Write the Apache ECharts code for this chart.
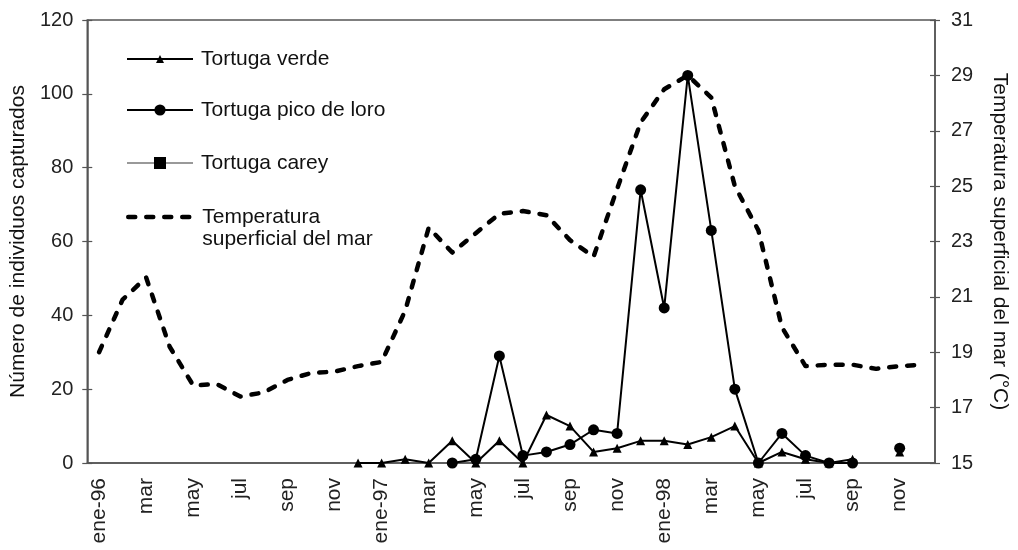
<!DOCTYPE html>
<html>
<head>
<meta charset="utf-8">
<script src="https://cdn.jsdelivr.net/npm/echarts@6/dist/echarts.min.js"></script>
<style>
  html, body { margin: 0; padding: 0; background: #fff; }
  #chart { width: 1018px; height: 550px; }
</style>
</head>
<body>
<div id="chart"></div>
<script>
// meses ene-96 .. dic-98
var meses = ['ene-96','feb','mar','abr','may','jun','jul','ago','sep','oct','nov','dic',
             'ene-97','feb','mar','abr','may','jun','jul','ago','sep','oct','nov','dic',
             'ene-98','feb','mar','abr','may','jun','jul','ago','sep','oct','nov','dic']

// temperatura superficial del mar (°C)
var temperatura = [19.0, 20.9, 21.7, 19.2, 17.8, 17.85, 17.4, 17.55, 18.0, 18.25, 18.3, 18.5,
                   18.65, 20.5, 23.5, 22.6, 23.3, 24.0, 24.1, 23.95, 23.05, 22.45, 24.9, 27.3,
                   28.5, 29.0, 28.2, 25.0, 23.4, 19.9, 18.5, 18.55, 18.55, 18.4, 18.5, 18.55]

// individuos capturados
var verde = [null, null, null, null, null, null, null, null, null, null, null, 0,
             0, 1, 0, 6, 0, 6, 0, 13, 10, 3, 4, 6,
             6, 5, 7, 10, 0, 3, 1, 0, 1, null, 3, null]
var picoLoro = [null, null, null, null, null, null, null, null, null, null, null, null,
                null, null, null, 0, 1, 29, 2, 3, 5, 9, 8, 74,
                42, 105, 63, 20, 0, 8, 2, 0, 0, null, 4, null]
var carey = [null, null, null, null, null, null, null, null, null, null, null, null,
             null, null, null, null, null, null, null, null, null, null, null, null,
             null, null, null, null, null, null, null, null, null, null, null, null]

var fuente = 'Liberation Sans, Arial, sans-serif'
var gris = '#555'
var trazo = { color: '#000', width: 4.5, type: [7, 11], cap: 'round', join: 'round' }

var myChart = echarts.init(document.getElementById('chart'))

function leyenda(nombre, top, alto, lh){
	var l = {
		data: [nombre], left: 126, top: top, padding: 0,
		itemWidth: 66, itemHeight: alto, selectedMode: false,
		textStyle: { fontSize: 21, color: '#111', fontFamily: fuente, lineHeight: lh, padding: [0,0,0,3] },
		formatter: function(n){
			// linea vacia arriba para que el icono quede a la altura de "Temperatura"
			return n == 'Temperatura superficial del mar' ? '\nTemperatura\nsuperficial del mar' : n
		}
	}
	if (nombre == 'Temperatura superficial del mar') {
		l.itemStyle = { opacity: 0 }
		l.lineStyle = trazo
	}
	return l
}

var option = {
	animation: false,
	backgroundColor: '#fff',
	textStyle: { fontFamily: fuente },
	grid: { left: 85, right: 80, top: 20, bottom: 87, show: true, borderColor: gris, borderWidth: 1.5 },
	legend: [
		leyenda('Tortuga verde', 47, 10, 24),
		leyenda('Tortuga pico de loro', 98, 14, 24),
		leyenda('Tortuga carey', 151, 15, 24),
		leyenda('Temperatura superficial del mar', 184, 12, 22)
	],
	xAxis: [{
		type: 'category', data: meses, boundaryGap: true,
		axisLine: { lineStyle: { color: gris, width: 1.5 } },
		axisTick: { interval: 0, length: 7, lineStyle: { color: gris, width: 1.2 } },
		axisLabel: { interval: 1, rotate: 90, fontSize: 21, color: '#222', margin: 15, fontFamily: fuente },
		splitLine: { show: false }
	}, {
		type: 'category', data: meses, boundaryGap: true, position: 'bottom',
		axisLine: { show: false },
		axisTick: { interval: 0, inside: true, length: 7, lineStyle: { color: gris, width: 1.2 } },
		axisLabel: { show: false },
		splitLine: { show: false }
	}],
	yAxis: [{
		type: 'value', min: 0, max: 120, interval: 20, position: 'left',
		name: 'Número de individuos capturados', nameLocation: 'middle', nameGap: 42,
		nameTextStyle: { fontSize: 21, color: '#111', fontFamily: fuente },
		axisLine: { show: true, lineStyle: { color: gris, width: 1.5 } },
		axisTick: { show: true, length: 5, lineStyle: { color: gris, width: 1.2 } },
		axisLabel: { fontSize: 20, color: '#222', margin: 14, fontFamily: fuente },
		splitLine: { show: false }
	}, {
		type: 'value', min: 15, max: 31, interval: 2, position: 'right',
		name: 'Temperatura superficial del mar (°C)', nameLocation: 'middle', nameGap: 54, nameRotate: -90,
		nameTextStyle: { fontSize: 21, color: '#111', fontFamily: fuente },
		axisLine: { show: true, lineStyle: { color: gris, width: 1.5 } },
		axisTick: { show: true, length: 5, lineStyle: { color: gris, width: 1.2 } },
		axisLabel: { fontSize: 20, color: '#222', margin: 16, fontFamily: fuente },
		splitLine: { show: false }
	}, {
		type: 'value', min: 0, max: 120, interval: 20, position: 'left',
		axisLine: { show: false },
		axisTick: { show: true, inside: true, length: 5, lineStyle: { color: gris, width: 1.2 } },
		axisLabel: { show: false }, splitLine: { show: false }
	}, {
		type: 'value', min: 15, max: 31, interval: 2, position: 'right',
		axisLine: { show: false },
		axisTick: { show: true, inside: true, length: 5, lineStyle: { color: gris, width: 1.2 } },
		axisLabel: { show: false }, splitLine: { show: false }
	}],
	series: [{
		name: 'Temperatura superficial del mar', type: 'line', yAxisIndex: 1,
		data: temperatura, symbol: 'none',
		lineStyle: trazo,
		itemStyle: { color: '#000' }
	}, {
		name: 'Tortuga verde', type: 'line', yAxisIndex: 0,
		data: verde, symbol: 'triangle', symbolSize: 9, connectNulls: false,
		lineStyle: { color: '#000', width: 2 },
		itemStyle: { color: '#000' }
	}, {
		name: 'Tortuga pico de loro', type: 'line', yAxisIndex: 0,
		data: picoLoro, symbol: 'circle', symbolSize: 11, connectNulls: false,
		lineStyle: { color: '#000', width: 2 },
		itemStyle: { color: '#000' }
	}, {
		name: 'Tortuga carey', type: 'line', yAxisIndex: 0,
		data: carey, symbol: 'rect', symbolSize: 11,
		lineStyle: { color: '#999', width: 2 },
		itemStyle: { color: '#000' }
	}]
}
myChart.setOption(option)
</script>
</body>
</html>
